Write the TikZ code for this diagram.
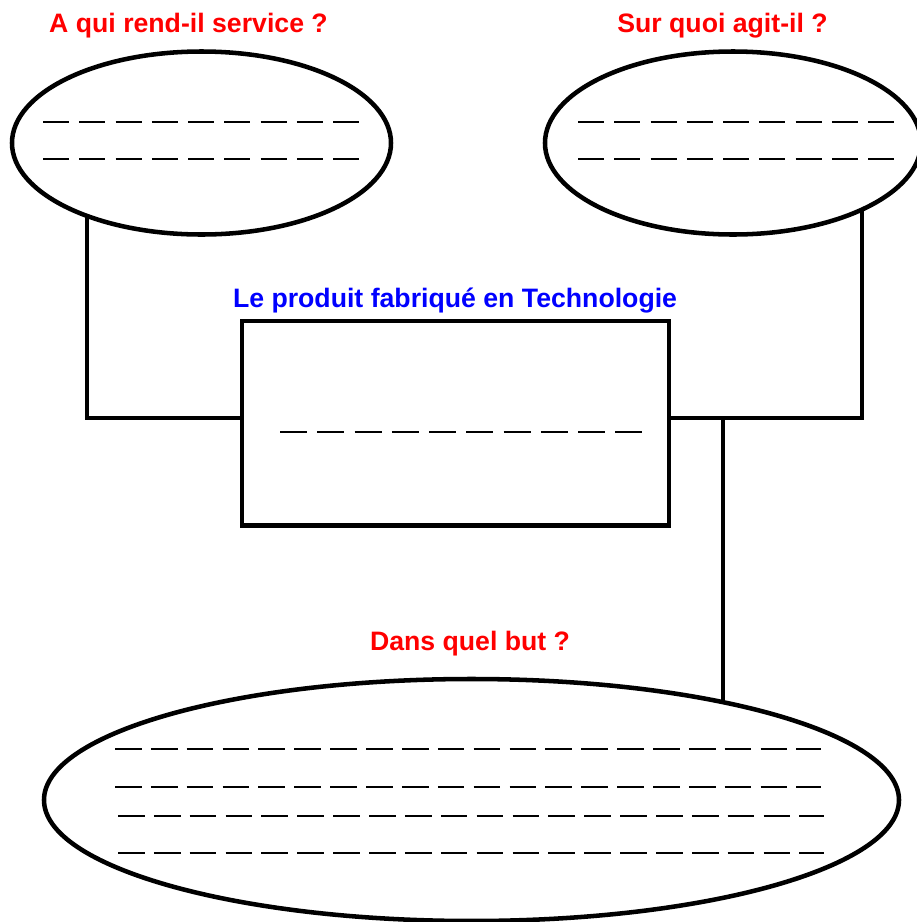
\documentclass[tikz,border=0pt]{standalone}
\usepackage{fontspec}
\setmainfont{Liberation Sans}
\usetikzlibrary{shapes.geometric,backgrounds}
\tikzset{
  bulle/.style={draw,ellipse,line width=3.4pt,fill=white,inner sep=0pt},
  cadre/.style={draw,rectangle,line width=3.4pt,inner sep=0pt,minimum width=320.25pt,minimum height=153.4pt},
  trait/.style={line width=3.4pt},
  blanc/.style={line width=2.1pt,dash pattern=on 19.5pt off 7.7pt},
  question/.style={font=\bfseries\fontsize{20pt}{24pt}\selectfont,text=red,anchor=base,inner sep=0pt},
}
\begin{document}
\begin{tikzpicture}[x=0.75pt,y=-0.75pt]
\useasboundingbox (0,0) rectangle (917,922);
\node[bulle,minimum width=284.25pt,minimum height=137.25pt] (service) at (201.5,143) {};
\node[bulle,minimum width=282pt,minimum height=137.25pt] (matiere) at (733,143) {};
\node[cadre] (produit) at (455.5,423.25) {};
\node[bulle,minimum width=641.25pt,minimum height=181.5pt] (but) at (471.5,800) {};

\node[question] (qservice) at (188.5,32) {A qui rend-il service ?};
\node[question] (qmatiere) at (722.5,32) {Sur quoi agit-il ?};
\node[question,text=blue] (qproduit) at (455,307) {Le produit fabriqué en Technologie};
\node[question] (qbut) at (470,650) {Dans quel but ?};

\coordinate (jservice) at (87,418);
\coordinate (jmatiere) at (862,418);
\coordinate (jbut) at (723,418);
\begin{scope}[on background layer]
\draw[trait] (produit.west |- jservice) -- (jservice) -- (jservice |- service.center);
\draw[trait] (produit.east |- jmatiere) -- (jmatiere) -- (jmatiere |- matiere.center);
\draw[trait] (jbut) -- (jbut |- but.center);
\end{scope}

\foreach \y in {122,159}
{
  \draw[blanc] (43,\y) -- ++(316,0);
  \draw[blanc] (578,\y) -- ++(316,0);
}
\draw[blanc,dash pattern=on 20.25pt off 7.7pt] (280,432) -- ++(362,0);
\foreach \x/\y in {115/749,115/787,118/816,118/853}
  \draw[blanc,dash pattern=on 20pt off 6.9pt] (\x,\y) -- ++(706,0);
\end{tikzpicture}
\end{document}
